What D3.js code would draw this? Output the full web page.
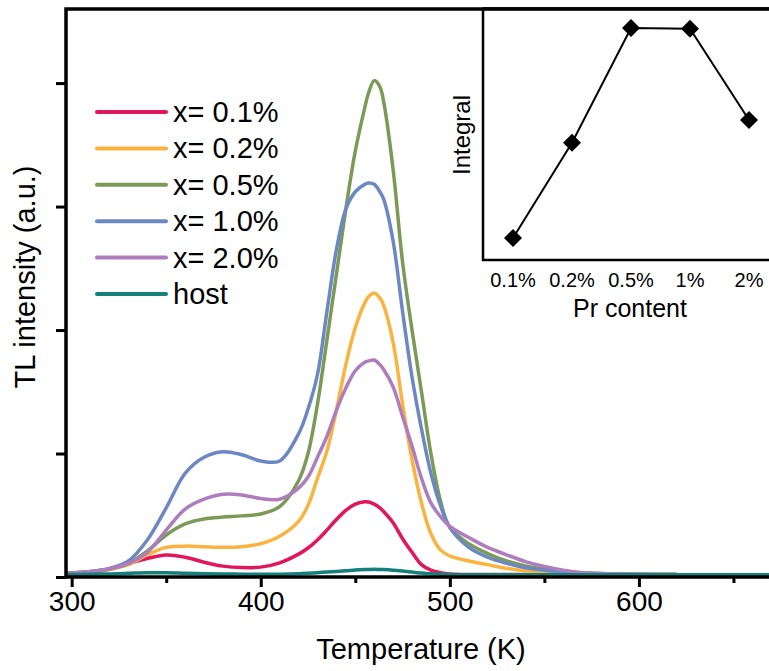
<!DOCTYPE html>
<html>
<head>
<meta charset="utf-8">
<script src="https://cdn.jsdelivr.net/npm/d3@7"></script>
<style>
  body { margin: 0; background: #fff; }
  text { font-family: "Liberation Sans", Arial, sans-serif; fill: #000; }
</style>
</head>
<body>
<div class="chart"></div>
<script>
var width = 769;
var height = 671;

// TL glow curves (a.u., one y tick = 1)
var temps = [297, 310, 320, 330, 340, 350, 360, 370, 380, 390,
             400, 410, 420, 425, 430, 435, 440, 445, 450, 455,
             457, 460, 463, 465, 470, 475, 480, 485, 490, 495,
             500, 510, 520, 530, 540, 550, 560, 570, 580, 600,
             620, 650, 700];
var x01 = [0.03, 0.04, 0.065, 0.11, 0.15, 0.178, 0.16, 0.12, 0.088, 0.076,
           0.08, 0.115, 0.185, 0.235, 0.30, 0.38, 0.465, 0.54, 0.59, 0.61,
           0.607, 0.59, 0.56, 0.53, 0.44, 0.31, 0.20, 0.10, 0.055, 0.035,
           0.025, 0.02, 0.02, 0.02, 0.02, 0.02, 0.02, 0.02, 0.02, 0.02,
           0.02, null, null];
var x02 = [0.03, 0.04, 0.06, 0.10, 0.18, 0.24, 0.25, 0.245, 0.24, 0.245,
           0.27, 0.33, 0.45, 0.58, 0.80, 1.02, 1.35, 1.72, 2.02, 2.22,
           2.27, 2.30, 2.26, 2.20, 1.90, 1.40, 0.95, 0.60, 0.35, 0.22,
           0.17, 0.13, 0.10, 0.07, 0.05, 0.038, 0.03, 0.025, 0.022, 0.02,
           0.02, null, null];
var x05 = [0.03, 0.045, 0.065, 0.11, 0.21, 0.34, 0.43, 0.47, 0.485, 0.495,
           0.51, 0.57, 0.78, 1.0, 1.4, 1.92, 2.45, 2.98, 3.45, 3.80,
           3.92, 4.02, 3.97, 3.85, 3.3, 2.55, 2.0, 1.5, 1.0, 0.62,
           0.40, 0.27, 0.19, 0.13, 0.09, 0.065, 0.045, 0.035, 0.028, 0.022,
           0.02, null, null];
var x10 = [0.03, 0.045, 0.07, 0.13, 0.30, 0.56, 0.84, 0.97, 1.015, 0.99,
           0.94, 0.94, 1.16, 1.36, 1.64, 2.15, 2.65, 2.98, 3.12, 3.18,
           3.19, 3.18, 3.12, 3.06, 2.72, 2.15, 1.62, 1.2, 0.84, 0.58,
           0.40, 0.24, 0.16, 0.11, 0.075, 0.055, 0.04, 0.032, 0.027, 0.022,
           0.02, null, null];
var x20 = [0.03, 0.045, 0.065, 0.11, 0.20, 0.38, 0.55, 0.63, 0.67, 0.665,
           0.635, 0.63, 0.72, 0.81, 0.97, 1.14, 1.35, 1.53, 1.67, 1.74,
           1.75, 1.757, 1.72, 1.68, 1.54, 1.3, 1.06, 0.8, 0.6, 0.49,
           0.41, 0.32, 0.24, 0.18, 0.125, 0.085, 0.055, 0.035, 0.028, 0.022,
           0.02, null, null];
var host = [0.02, 0.022, 0.025, 0.03, 0.035, 0.034, 0.03, 0.027, 0.025, 0.023,
            0.022, 0.022, 0.026, 0.03, 0.035, 0.04, 0.045, 0.05, 0.056, 0.06,
            0.061, 0.062, 0.061, 0.06, 0.055, 0.048, 0.04, 0.032, 0.026, 0.022,
            0.02, 0.018, 0.018, 0.018, 0.018, 0.018, 0.018, 0.018, 0.018, 0.018,
            0.018, 0.018, 0.018];

var seriesNames = ["x= 0.1%", "x= 0.2%", "x= 0.5%", "x= 1.0%", "x= 2.0%", "host"];
var seriesValues = [x01, x02, x05, x10, x20, host];
var seriesColors = ["#e3165b", "#f9b33e", "#7a9a56", "#6c88c4", "#ae7dbd", "#13807a"];

var xTicks = [300, 400, 500, 600];
var xMinor = [350, 450, 550, 650];
var yTicks = [0, 1, 2, 3, 4];

// inset: integrated intensity vs Pr content
var prContent = ["0.1%", "0.2%", "0.5%", "1%", "2%"];
var integral = [0.55, 2.93, 5.8, 5.78, 3.5];

var svg = d3.select(".chart").append("svg")
    .attr("width", width)
    .attr("height", height);

var x = d3.scaleLinear().domain([297, 700]).range([66, 828]);
var y = d3.scaleLinear().domain([0, 4.6]).range([577, 9]);

//axes
var xAxis = svg.append("g")
    .attr("transform", "translate(0,577)")
    .call(d3.axisBottom(x).tickValues(xTicks).tickSize(10).tickPadding(4));
xAxis.select(".domain").remove();
xAxis.selectAll("line").attr("stroke-width", 3);
xAxis.selectAll("text").attr("font-size", 28).attr("font-family", "Liberation Sans, Arial");

var xMin = svg.append("g")
    .attr("transform", "translate(0,577)")
    .call(d3.axisBottom(x).tickValues(xMinor).tickSize(6).tickFormat(""));
xMin.select(".domain").remove();
xMin.selectAll("line").attr("stroke-width", 3);

var yAxis = svg.append("g")
    .attr("transform", "translate(66,0)")
    .call(d3.axisLeft(y).tickValues(yTicks).tickSize(10).tickFormat(""));
yAxis.select(".domain").remove();
yAxis.selectAll("line").attr("stroke-width", 3);

var line = d3.line()
    .defined(function(d) { return d[1] != null; })
    .x(function(d) { return x(d[0]); })
    .y(function(d) { return y(d[1]); })
    .curve(d3.curveCatmullRom.alpha(0.5));

svg.append("g").selectAll("path")
    .data(seriesValues)
    .enter()
    .append("path")
    .attr("d", function(vals) {
        return line(temps.map(function(t, i) { return [t, vals[i]]; }));
    })
    .attr("fill", "none")
    .attr("stroke", function(d, i) { return seriesColors[i]; })
    .attr("stroke-width", 3.5)
    .attr("stroke-linejoin", "round");

// frame: left axis, bottom axis, top line
svg.append("path")
    .attr("d", "M769,9H66V577H769")
    .attr("fill", "none")
    .attr("stroke", "#000")
    .attr("stroke-width", 3.5);

svg.append("text")
    .attr("transform", "translate(35,277) rotate(-90)")
    .attr("text-anchor", "middle")
    .attr("font-size", 29)
    .text("TL intensity (a.u.)");

svg.append("text")
    .attr("x", 421)
    .attr("y", 659)
    .attr("text-anchor", "middle")
    .attr("font-size", 29)
    .text("Temperature (K)");

//legend
var legend = svg.append("g").selectAll("g")
    .data(seriesNames)
    .enter()
    .append("g")
    .attr("transform", function(d, i) { return "translate(97," + (112 + i * 36.4) + ")"; });
legend.append("line")
    .attr("x1", 0).attr("x2", 69)
    .attr("stroke", function(d, i) { return seriesColors[i]; })
    .attr("stroke-width", 4)
    .attr("stroke-linecap", "round");
legend.append("text")
    .attr("x", 76)
    .attr("y", 10)
    .attr("font-size", 29)
    .text(function(d) { return d; });

// inset
var ix = d3.scalePoint().domain(prContent).range([513, 749]);
var iy = d3.scaleLinear().domain([0, 6]).range([260, 20]);

svg.append("rect")
    .attr("x", 483).attr("y", 9)
    .attr("width", 400).attr("height", 251)
    .attr("fill", "#fff");
svg.append("path")
    .attr("d", "M769,9H483V260H769")
    .attr("fill", "none")
    .attr("stroke", "#000")
    .attr("stroke-width", 2.5);
svg.append("path")
    .attr("d", "M769,9H483")
    .attr("stroke", "#000")
    .attr("stroke-width", 3.5);

svg.append("path")
    .datum(integral)
    .attr("d", d3.line()
        .x(function(d, i) { return ix(prContent[i]); })
        .y(function(d) { return iy(d); }))
    .attr("fill", "none")
    .attr("stroke", "#000")
    .attr("stroke-width", 2);

svg.append("g").selectAll("path")
    .data(integral)
    .enter()
    .append("path")
    .attr("transform", function(d, i) { return "translate(" + ix(prContent[i]) + "," + iy(d) + ")"; })
    .attr("d", "M0,-9L9,0L0,9L-9,0Z")
    .attr("fill", "#000");

svg.append("g").selectAll("text")
    .data(prContent)
    .enter()
    .append("text")
    .attr("x", function(d) { return ix(d); })
    .attr("y", 287)
    .attr("text-anchor", "middle")
    .attr("font-size", 20)
    .text(function(d) { return d; });

svg.append("text")
    .attr("x", 630)
    .attr("y", 317)
    .attr("text-anchor", "middle")
    .attr("font-size", 25)
    .text("Pr content");

svg.append("text")
    .attr("transform", "translate(470,135) rotate(-90)")
    .attr("text-anchor", "middle")
    .attr("font-size", 24)
    .text("Integral");
</script>
</body>
</html>
